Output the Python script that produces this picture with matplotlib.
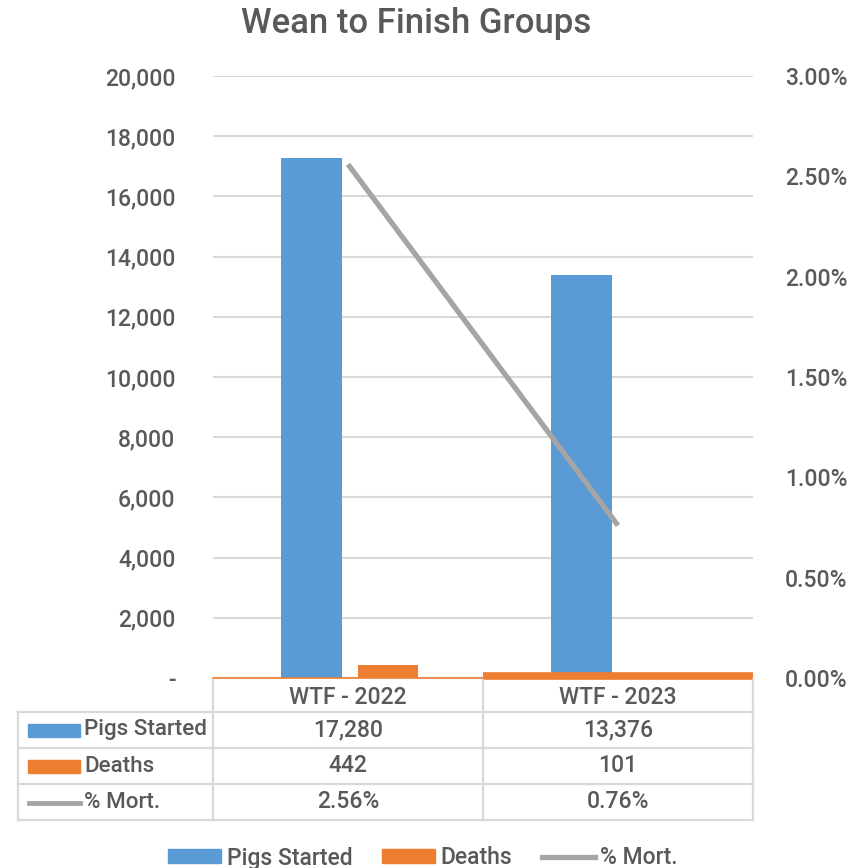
import matplotlib
matplotlib.use("Agg")
import matplotlib.pyplot as plt
from matplotlib.lines import Line2D
from matplotlib.patches import Rectangle
from matplotlib.ticker import FuncFormatter, MultipleLocator

categories = ["WTF - 2022", "WTF - 2023"]
pigs_started = [17280, 13376]
deaths = [442, 101]
pct_mort = [2.56, 0.76]
series_names = ["Pigs Started", "Deaths", "% Mort."]

BLUE = "#5B9BD5"
ORANGE = "#ED7D31"
GRAY = "#A5A5A5"
TEXT = "#595959"
GRID = "#D9D9D9"
FS = 16.5

plt.rcParams["font.family"] = ["Roboto", "DejaVu Sans"]
plt.rcParams["font.weight"] = "medium"

W, H = 853, 868
fig = plt.figure(figsize=(W / 100, H / 100), dpi=100)


def fx(px):
    return px / W


def fy(py):
    return 1 - py / H


left, right, top, bottom = 213, 753, 76, 678
ax = fig.add_axes([fx(left), fy(bottom), fx(right - left), fy(top) - fy(bottom)])
ax2 = ax.twinx()

x = list(range(len(categories)))
bw = 0.225
ax.bar([i - 0.135 for i in x], pigs_started, width=bw, color=BLUE, zorder=3)
ax.bar([i + 0.148 for i in x], deaths, width=bw, color=ORANGE, zorder=3)
ax2.plot(x, pct_mort, color=GRAY, linewidth=3.8, solid_capstyle="butt", zorder=4)

ax.set_xlim(-0.5, len(categories) - 0.5)
ax.set_ylim(0, 20000)
ax2.set_ylim(0, 3.0)
ax.yaxis.set_major_locator(MultipleLocator(2000))
ax2.yaxis.set_major_locator(MultipleLocator(0.5))
ax.yaxis.set_major_formatter(FuncFormatter(lambda v, p: "-" if v == 0 else f"{v:,.0f}"))
ax2.yaxis.set_major_formatter(FuncFormatter(lambda v, p: f"{v:.2f}%"))
ax.grid(axis="y", color=GRID, linewidth=1.5, zorder=0)
ax.set_axisbelow(True)
ax.set_xticks([])
for a in (ax, ax2):
    for s in a.spines.values():
        s.set_visible(False)
    a.tick_params(axis="y", length=0, labelsize=FS, labelcolor=TEXT)
ax.tick_params(axis="y", pad=27)
ax2.tick_params(axis="y", pad=23)

# orange base line along the category axis
ax.plot([-0.5, 0.5], [0, 0], color=ORANGE, linewidth=1.2, zorder=4, clip_on=False)
ax.plot([0.5, 1.5], [60, 60], color=ORANGE, linewidth=5.5, zorder=4, clip_on=False,
        solid_capstyle="butt")

fig.text(0.488, fy(24), "Wean to Finish Groups", ha="center", va="center",
         fontsize=25, color=TEXT)

# data table
col_x = [18, 213, 483, 753]
row_y = [680, 712, 748, 784, 820]


def hline(x0, x1, y):
    fig.add_artist(Line2D([fx(x0), fx(x1)], [fy(y), fy(y)], color=GRID, linewidth=1.6))


def vline(x0, y0, y1):
    fig.add_artist(Line2D([fx(x0), fx(x0)], [fy(y0), fy(y1)], color=GRID, linewidth=1.6))


for y in row_y[1:]:
    hline(col_x[0], col_x[-1], y)
for cx in col_x[1:]:
    vline(cx, row_y[0], row_y[-1])
vline(col_x[0], row_y[1], row_y[-1])

for i, cat in enumerate(categories):
    cxm = (col_x[i + 1] + col_x[i + 2]) / 2
    fig.text(fx(cxm), fy((row_y[0] + row_y[1]) / 2 + 1), cat, ha="center", va="center",
             fontsize=FS, color=TEXT)

rows = [
    [f"{v:,}" for v in pigs_started],
    [f"{v:,}" for v in deaths],
    [f"{v:.2f}%" for v in pct_mort],
]
key_colors = [BLUE, ORANGE, GRAY]
for r, (name, vals) in enumerate(zip(series_names, rows)):
    ym = (row_y[r + 1] + row_y[r + 2]) / 2
    if r < 2:
        fig.add_artist(Rectangle((fx(28), fy(ym + 6.5)), fx(52), fy(ym - 6.5) - fy(ym + 6.5),
                                 color=key_colors[r], transform=fig.transFigure))
    else:
        fig.add_artist(Line2D([fx(29), fx(80)], [fy(ym + 1), fy(ym + 1)],
                              color=GRAY, linewidth=3.5))
    fig.text(fx(84), fy(ym), name, ha="left", va="center", fontsize=16.1, color=TEXT)
    for i, v in enumerate(vals):
        cxm = (col_x[i + 1] + col_x[i + 2]) / 2
        fig.text(fx(cxm), fy(ym), v, ha="center", va="center", fontsize=FS, color=TEXT)

# legend
handles = [
    Rectangle((0, 0), 1, 1, color=BLUE),
    Rectangle((0, 0), 1, 1, color=ORANGE),
    Line2D([0], [0], color=GRAY, linewidth=3.8),
]
fig.legend(handles, series_names, loc="center", bbox_to_anchor=(0.496, fy(858)), ncol=3,
           frameon=False, fontsize=FS, labelcolor=TEXT, handlelength=2.3, handleheight=0.55,
           handletextpad=0.25, columnspacing=1.3, borderpad=0)

fig.savefig("out.png", dpi=100)
